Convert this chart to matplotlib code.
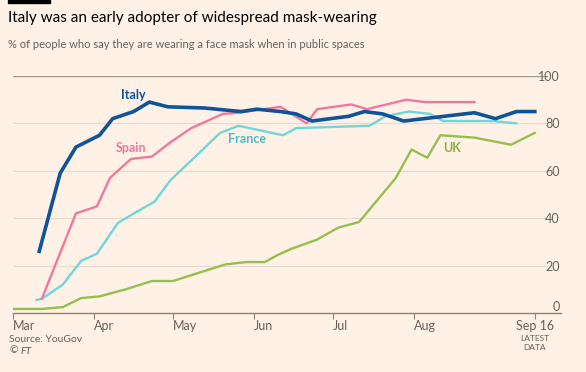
import matplotlib
matplotlib.use("Agg")
import matplotlib.pyplot as plt
import pandas as pd

plt.rcParams['font.family'] = ['Lato', 'DejaVu Sans']

# YouGov weekly tracker, % wearing a mask in public
italy_dates = ['2020-03-11', '2020-03-19', '2020-03-25', '2020-04-03', '2020-04-08',
               '2020-04-16', '2020-04-22', '2020-04-29', '2020-05-13', '2020-05-27',
               '2020-06-02', '2020-06-11', '2020-06-17', '2020-06-23', '2020-07-07',
               '2020-07-13', '2020-07-20', '2020-07-28', '2020-08-24', '2020-09-01',
               '2020-09-09', '2020-09-16']
italy_vals = [26, 59, 70, 75, 82, 85, 89, 87, 86.5, 85, 86, 85, 84, 81, 83,
              85, 84, 81, 84.5, 82, 85, 85]

spain_dates = ['2020-03-12', '2020-03-25', '2020-04-02', '2020-04-07', '2020-04-15',
               '2020-04-23', '2020-04-30', '2020-05-08', '2020-05-20', '2020-05-26',
               '2020-06-11', '2020-06-21', '2020-06-25', '2020-07-08', '2020-07-14',
               '2020-07-29', '2020-08-05', '2020-08-24']
spain_vals = [6, 42, 45, 57, 65, 66, 72, 78, 84, 84.5, 87, 80, 86, 88, 86, 90, 89, 89]

france_dates = ['2020-03-10', '2020-03-12', '2020-03-20', '2020-03-27', '2020-04-02',
                '2020-04-10', '2020-04-17', '2020-04-24', '2020-04-30', '2020-05-11',
                '2020-05-19', '2020-05-26', '2020-06-12', '2020-06-17', '2020-07-15',
                '2020-07-21', '2020-07-30', '2020-08-07', '2020-08-12', '2020-08-31',
                '2020-09-09']
france_vals = [5.5, 6, 12, 22, 25, 38, 42.6, 47, 56, 67.5, 76, 79, 75, 78, 79,
               83, 85, 84, 81, 81, 80]

uk_dates = ['2020-03-01', '2020-03-12', '2020-03-20', '2020-03-27', '2020-04-03',
            '2020-04-13', '2020-04-23', '2020-05-01', '2020-05-11', '2020-05-21',
            '2020-05-29', '2020-06-05', '2020-06-10', '2020-06-15', '2020-06-25',
            '2020-07-03', '2020-07-11', '2020-07-25', '2020-07-31', '2020-08-06',
            '2020-08-11', '2020-08-24', '2020-09-07', '2020-09-16']
uk_vals = [1.7, 1.7, 2.5, 6.3, 7, 10, 13.5, 13.5, 17, 20.5, 21.5, 21.5, 24.5, 27,
           31, 36, 38.4, 57, 69, 65.5, 75, 74, 71, 76]

tick_dates = ['2020-03-01', '2020-04-01', '2020-05-01', '2020-06-01', '2020-07-01',
              '2020-08-01', '2020-09-16']
tick_labels = ['Mar', 'Apr', 'May', 'Jun', 'Jul', 'Aug', 'Sep 16']
y_ticks = [0, 20, 40, 60, 80, 100]

bg = '#FFF1E5'
grey = '#66605C'
c_italy = '#0F5499'
c_spain = '#F0789E'
c_france = '#6FD6DA'
c_uk = '#96BF4E'

fig = plt.figure(figsize=(5.86, 3.72), dpi=100, facecolor=bg)
ax = fig.add_axes([13/586, (372-313)/372, (561-13)/586, (313-76)/372])
ax.set_facecolor(bg)

d = pd.to_datetime
ax.plot(d(uk_dates), uk_vals, color=c_uk, lw=1.7, solid_joinstyle='round', zorder=3)
ax.plot(d(france_dates), france_vals, color=c_france, lw=1.7, solid_joinstyle='round', zorder=4)
ax.plot(d(spain_dates), spain_vals, color=c_spain, lw=1.7, solid_joinstyle='round', zorder=5)
ax.plot(d(italy_dates), italy_vals, color=c_italy, lw=2.6, solid_joinstyle='round', zorder=6)

ax.set_xlim(pd.Timestamp('2020-03-01'), pd.Timestamp('2020-09-26'))
ax.set_ylim(0, 100)

# gridlines stop short of the right-hand labels
gx = (547 - 13) / (561 - 13)
for v in y_ticks[1:-1]:
    ax.axhline(v, xmin=0, xmax=gx, color='#E8DCD1', lw=0.9, zorder=1)
ax.axhline(100, xmin=0, xmax=gx, color='#A39A93', lw=1.0, zorder=1)

for s in ['top', 'left', 'right']:
    ax.spines[s].set_visible(False)
ax.spines['bottom'].set_color('#8A827C')
ax.spines['bottom'].set_linewidth(1.0)

ax.set_xticks(d(tick_dates))
ax.set_xticklabels(tick_labels)
ax.tick_params(axis='x', length=4, color='#8A827C', labelsize=9, labelcolor=grey, pad=1)
for i, lab in enumerate(ax.get_xticklabels()):
    lab.set_ha('center' if i == len(tick_labels) - 1 else 'left')

ax.yaxis.tick_right()
ax.set_yticks(y_ticks)
ax.set_yticklabels([str(v) for v in y_ticks])
ax.tick_params(axis='y', length=0, labelsize=9, labelcolor=grey, pad=-1)
for lab in ax.get_yticklabels():
    lab.set_ha('right')
ax.get_yticklabels()[0].set_va('bottom')

ax.annotate('LATEST\nDATA', xy=(pd.Timestamp('2020-09-16'), 0), xycoords=('data', 'axes fraction'),
            xytext=(0, -16), textcoords='offset points', ha='center', va='top',
            fontsize=6, color=grey, linespacing=1.25)

# series labels
ax.text(pd.Timestamp('2020-04-11'), 92, 'Italy', color=c_italy, fontsize=9,
        fontweight='bold', ha='left', va='center')
ax.text(pd.Timestamp('2020-04-09'), 69.5, 'Spain', color=c_spain, fontsize=9,
        fontweight='bold', ha='left', va='center')
ax.text(pd.Timestamp('2020-05-22'), 73.5, 'France', color='#4DBDC2', fontsize=9,
        fontweight='bold', ha='left', va='center')
ax.text(pd.Timestamp('2020-08-12'), 69.5, 'UK', color='#86AE3F', fontsize=9,
        fontweight='bold', ha='left', va='center')

fig.patches.append(plt.Rectangle((8/586, 1 - 3/372), 42/586, 3/372, transform=fig.transFigure,
                                 color='#000000'))
fig.text(8/586, 1 - 18/372, 'Italy was an early adopter of widespread mask-wearing',
         fontsize=11, color='#000000', ha='left', va='center')
fig.text(8/586, 1 - 45/372, '% of people who say they are wearing a face mask when in public spaces',
         fontsize=8, color=grey, ha='left', va='center')
fig.text(9/586, 1 - 339/372, 'Source: YouGov', fontsize=7.5, color=grey, ha='left', va='center')
fig.text(9/586, 1 - 351/372, '©', fontsize=7.5, color=grey, ha='left', va='center')
fig.text(20/586, 1 - 351/372, 'FT', fontsize=7.5, color=grey, ha='left', va='center', style='italic')

fig.savefig('out.png', dpi=100, facecolor=bg)
